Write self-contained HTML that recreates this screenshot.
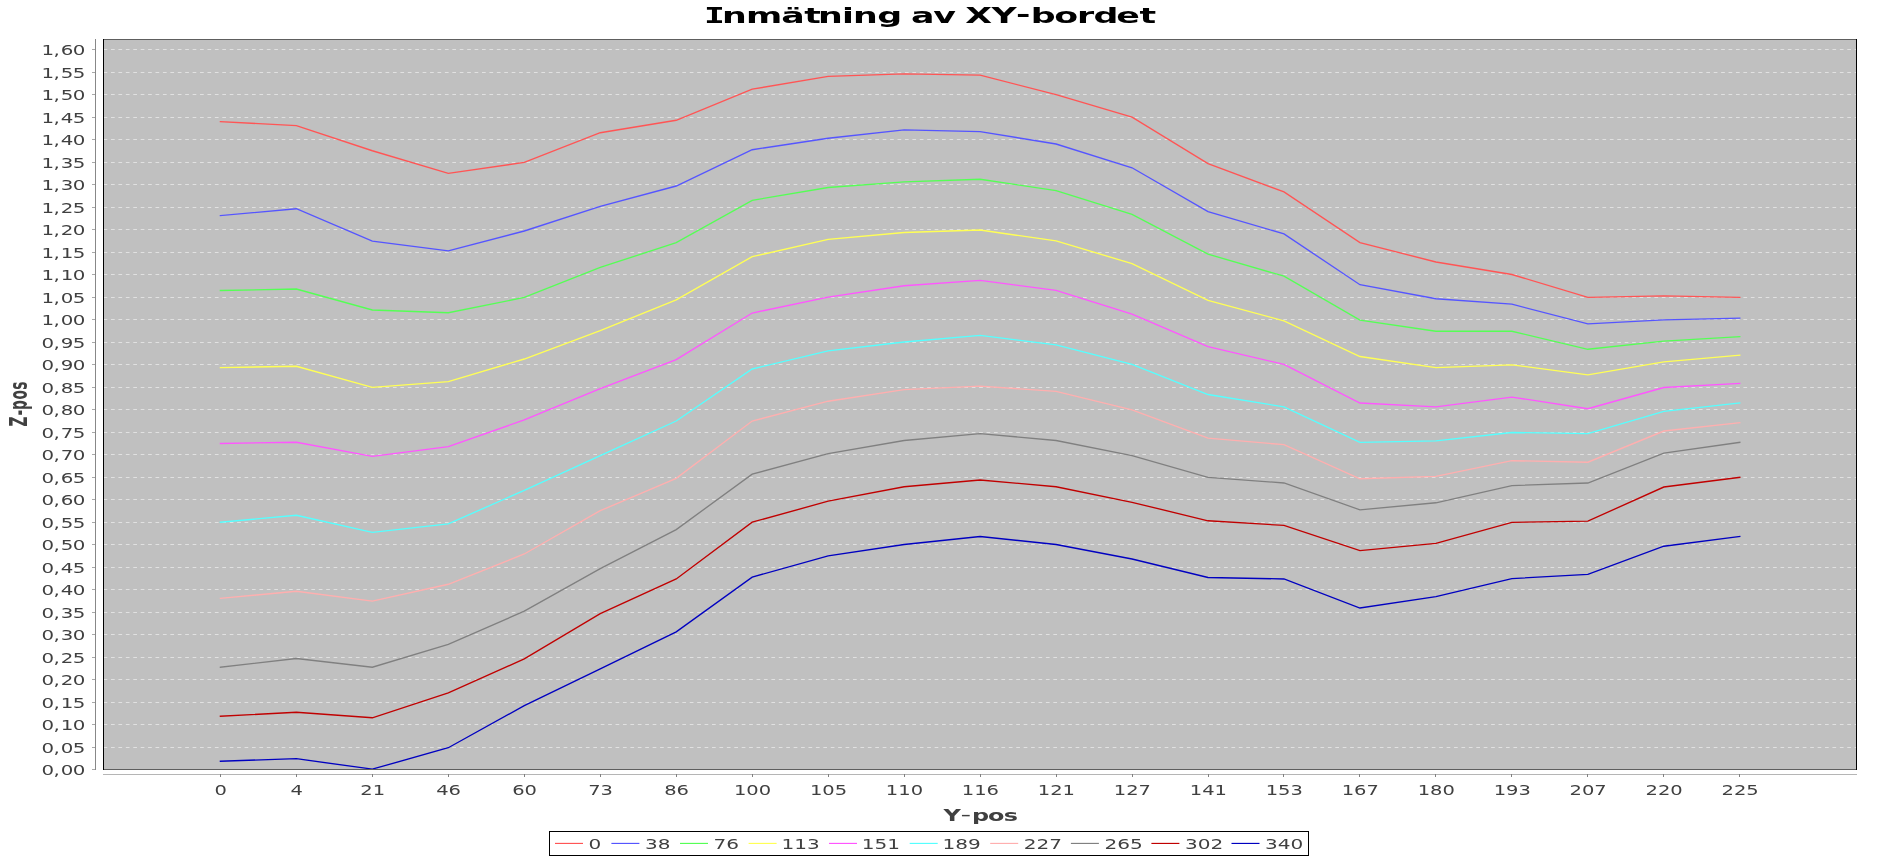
<!DOCTYPE html><html><head><meta charset="utf-8"><title>Inmätning av XY-bordet</title><style>html,body{margin:0;padding:0;background:#fff;width:1877px;height:857px;overflow:hidden}svg{display:block;will-change:transform}text{font-family:'DejaVu Sans', 'Liberation Sans', sans-serif}</style></head><body>
<svg width="1877" height="857" viewBox="0 0 1877 857">
<rect width="1877" height="857" fill="#fff"/>
<text transform="scale(1.58182,1)" y="23.0 23.0 23.0 23.0 23.0 23.0 23.0 23.0 23.0 23.0 23.0 23.0 23.0 23.0 23.0 21.9 23.0 23.0 23.0 23.0 23.0 23.0" x="445.02 456.40 471.57 493.95 508.51 517.09 532.26 539.22 554.64 564.64 576.00 590.00 600.00 610.19 626.84 642.29 651.68 666.53 680.83 691.25 705.73 720.36" font-size="22.00" font-weight="bold" fill="#000"><tspan font-family="'DejaVu Sans Mono', monospace">I</tspan>nmätning av XY-bordet</text>
<rect x="103" y="39" width="1754" height="731" fill="#c0c0c0"/>
<path d="M104 747.5H1856 M104 724.5H1856 M104 702.5H1856 M104 679.5H1856 M104 657.5H1856 M104 634.5H1856 M104 612.5H1856 M104 589.5H1856 M104 567.5H1856 M104 544.5H1856 M104 522.5H1856 M104 499.5H1856 M104 477.5H1856 M104 454.5H1856 M104 432.5H1856 M104 409.5H1856 M104 387.5H1856 M104 364.5H1856 M104 342.5H1856 M104 319.5H1856 M104 297.5H1856 M104 274.5H1856 M104 252.5H1856 M104 229.5H1856 M104 207.5H1856 M104 184.5H1856 M104 162.5H1856 M104 139.5H1856 M104 117.5H1856 M104 94.5H1856 M104 72.5H1856 M104 49.5H1856" stroke="#fff" stroke-opacity="0.52" stroke-width="1" stroke-dasharray="3.71 3.71" stroke-dashoffset="0.42" fill="none"/>
<g fill="none" stroke-width="1.35" stroke-linecap="square" stroke-linejoin="miter">
<polyline points="220.40,121.68 296.37,125.55 372.34,150.75 448.31,173.43 524.28,162.45 600.25,132.71 676.22,120.28 752.19,89.19 828.16,76.41 904.13,73.89 980.10,75.11 1056.07,94.68 1132.04,117.09 1208.01,163.53 1283.98,191.88 1359.95,242.60 1435.92,261.99 1511.89,274.50 1587.86,297.41 1663.83,295.92 1739.80,297.41" stroke="#ff5555"/>
<polyline points="220.40,215.64 296.37,208.75 372.34,241.16 448.31,250.92 524.28,230.98 600.25,206.41 676.22,185.99 752.19,149.72 828.16,138.28 904.13,129.91 980.10,131.58 1056.07,144.00 1132.04,167.76 1208.01,211.63 1283.98,233.91 1359.95,284.72 1435.92,298.71 1511.89,304.20 1587.86,323.82 1663.83,319.91 1739.80,318.10" stroke="#5555ff"/>
<polyline points="220.40,290.52 296.37,288.99 372.34,310.01 448.31,312.75 524.28,297.45 600.25,267.48 676.22,242.60 752.19,200.30 828.16,187.52 904.13,181.80 980.10,179.28 1056.07,190.62 1132.04,214.38 1208.01,254.16 1283.98,276.21 1359.95,320.08 1435.92,331.29 1511.89,331.29 1587.86,349.29 1663.83,341.19 1739.80,336.60" stroke="#55ff55"/>
<polyline points="220.40,367.61 296.37,366.30 372.34,387.31 448.31,381.64 524.28,359.01 600.25,330.66 676.22,299.88 752.19,256.68 828.16,239.45 904.13,232.51 980.10,230.04 1056.07,240.88 1132.04,263.61 1208.01,300.42 1283.98,320.89 1359.95,356.49 1435.92,367.61 1511.89,364.81 1587.86,374.81 1663.83,361.89 1739.80,355.19" stroke="#ffff55"/>
<polyline points="220.40,443.52 296.37,442.22 372.34,456.30 448.31,446.58 524.28,419.94 600.25,388.62 676.22,359.59 752.19,313.02 828.16,297.18 904.13,285.71 980.10,280.39 1056.07,290.30 1132.04,314.01 1208.01,346.59 1283.98,364.41 1359.95,403.02 1435.92,406.89 1511.89,397.08 1587.86,408.69 1663.83,387.50 1739.80,383.36" stroke="#ff55ff"/>
<polyline points="220.40,522.18 296.37,515.30 372.34,532.31 448.31,523.89 524.28,490.32 600.25,455.58 676.22,421.02 752.19,369.00 828.16,350.82 904.13,341.96 980.10,335.38 1056.07,344.88 1132.04,364.41 1208.01,394.51 1283.98,406.85 1359.95,442.31 1435.92,440.82 1511.89,432.50 1587.86,433.62 1663.83,411.30 1739.80,403.02" stroke="#55ffff"/>
<polyline points="220.40,598.32 296.37,591.30 372.34,601.11 448.31,584.28 524.28,554.00 600.25,510.71 676.22,478.31 752.19,421.02 828.16,401.22 904.13,389.61 980.10,386.10 1056.07,391.32 1132.04,409.90 1208.01,438.21 1283.98,444.69 1359.95,478.75 1435.92,476.37 1511.89,460.71 1587.86,462.20 1663.83,431.01 1739.80,422.69" stroke="#ffafaf"/>
<polyline points="220.40,667.22 296.37,658.49 372.34,667.22 448.31,644.49 524.28,611.14 600.25,568.62 676.22,529.61 752.19,474.12 828.16,453.60 904.13,440.50 980.10,433.62 1056.07,440.50 1132.04,455.71 1208.01,477.31 1283.98,482.98 1359.95,509.81 1435.92,502.79 1511.89,485.55 1587.86,483.03 1663.83,453.19 1739.80,442.31" stroke="#808080"/>
<polyline points="220.40,716.22 296.37,712.22 372.34,717.79 448.31,692.87 524.28,658.85 600.25,613.62 676.22,578.97 752.19,522.18 828.16,501.21 904.13,486.72 980.10,480.01 1056.07,486.72 1132.04,502.29 1208.01,520.79 1283.98,525.42 1359.95,550.62 1435.92,543.42 1511.89,522.40 1587.86,521.10 1663.83,487.03 1739.80,477.36" stroke="#c00000"/>
<polyline points="220.40,761.22 296.37,758.70 372.34,769.18 448.31,747.72 524.28,705.69 600.25,668.88 676.22,631.89 752.19,577.08 828.16,555.84 904.13,544.50 980.10,536.49 1056.07,544.50 1132.04,558.99 1208.01,577.49 1283.98,578.97 1359.95,608.04 1435.92,596.70 1511.89,578.61 1587.86,574.38 1663.83,546.21 1739.80,536.40" stroke="#0000c0"/>
</g>
<rect x="103" y="39" width="1754" height="1" fill="#5e5e5e"/>
<rect x="103" y="769" width="1754" height="1" fill="#5e5e5e"/>
<rect x="103" y="39" width="1" height="731" fill="#000"/>
<rect x="1856" y="39" width="1" height="731" fill="#000"/>
<rect x="95" y="39" width="1" height="731" fill="#888"/>
<rect x="92" y="769" width="3" height="1" fill="#a8a8a8"/><rect x="92" y="747" width="3" height="1" fill="#a8a8a8"/><rect x="92" y="724" width="3" height="1" fill="#a8a8a8"/><rect x="92" y="702" width="3" height="1" fill="#a8a8a8"/><rect x="92" y="679" width="3" height="1" fill="#a8a8a8"/><rect x="92" y="657" width="3" height="1" fill="#a8a8a8"/><rect x="92" y="634" width="3" height="1" fill="#a8a8a8"/><rect x="92" y="612" width="3" height="1" fill="#a8a8a8"/><rect x="92" y="589" width="3" height="1" fill="#a8a8a8"/><rect x="92" y="567" width="3" height="1" fill="#a8a8a8"/><rect x="92" y="544" width="3" height="1" fill="#a8a8a8"/><rect x="92" y="522" width="3" height="1" fill="#a8a8a8"/><rect x="92" y="499" width="3" height="1" fill="#a8a8a8"/><rect x="92" y="477" width="3" height="1" fill="#a8a8a8"/><rect x="92" y="454" width="3" height="1" fill="#a8a8a8"/><rect x="92" y="432" width="3" height="1" fill="#a8a8a8"/><rect x="92" y="409" width="3" height="1" fill="#a8a8a8"/><rect x="92" y="387" width="3" height="1" fill="#a8a8a8"/><rect x="92" y="364" width="3" height="1" fill="#a8a8a8"/><rect x="92" y="342" width="3" height="1" fill="#a8a8a8"/><rect x="92" y="319" width="3" height="1" fill="#a8a8a8"/><rect x="92" y="297" width="3" height="1" fill="#a8a8a8"/><rect x="92" y="274" width="3" height="1" fill="#a8a8a8"/><rect x="92" y="252" width="3" height="1" fill="#a8a8a8"/><rect x="92" y="229" width="3" height="1" fill="#a8a8a8"/><rect x="92" y="207" width="3" height="1" fill="#a8a8a8"/><rect x="92" y="184" width="3" height="1" fill="#a8a8a8"/><rect x="92" y="162" width="3" height="1" fill="#a8a8a8"/><rect x="92" y="139" width="3" height="1" fill="#a8a8a8"/><rect x="92" y="117" width="3" height="1" fill="#a8a8a8"/><rect x="92" y="94" width="3" height="1" fill="#a8a8a8"/><rect x="92" y="72" width="3" height="1" fill="#a8a8a8"/><rect x="92" y="49" width="3" height="1" fill="#a8a8a8"/>
<rect x="103" y="774" width="1754" height="1" fill="#b5b5b5"/>
<rect x="220" y="774" width="1" height="3" fill="#808080"/><rect x="296" y="774" width="1" height="3" fill="#808080"/><rect x="372" y="774" width="1" height="3" fill="#808080"/><rect x="448" y="774" width="1" height="3" fill="#808080"/><rect x="524" y="774" width="1" height="3" fill="#808080"/><rect x="600" y="774" width="1" height="3" fill="#808080"/><rect x="676" y="774" width="1" height="3" fill="#808080"/><rect x="752" y="774" width="1" height="3" fill="#808080"/><rect x="828" y="774" width="1" height="3" fill="#808080"/><rect x="904" y="774" width="1" height="3" fill="#808080"/><rect x="980" y="774" width="1" height="3" fill="#808080"/><rect x="1056" y="774" width="1" height="3" fill="#808080"/><rect x="1132" y="774" width="1" height="3" fill="#808080"/><rect x="1208" y="774" width="1" height="3" fill="#808080"/><rect x="1283" y="774" width="1" height="3" fill="#808080"/><rect x="1359" y="774" width="1" height="3" fill="#808080"/><rect x="1435" y="774" width="1" height="3" fill="#808080"/><rect x="1511" y="774" width="1" height="3" fill="#808080"/><rect x="1587" y="774" width="1" height="3" fill="#808080"/><rect x="1663" y="774" width="1" height="3" fill="#808080"/><rect x="1739" y="774" width="1" height="3" fill="#808080"/>
<g fill="#404040"><text transform="translate(0,774.83) scale(1.5000,1)" x="27.61 35.64 40.44 48.48" font-size="13.20">0,00</text><text transform="translate(0,752.83) scale(1.5000,1)" x="27.61 35.64 40.44 48.48" font-size="13.20">0,05</text><text transform="translate(0,729.83) scale(1.5000,1)" x="27.61 35.64 40.44 48.48" font-size="13.20">0,10</text><text transform="translate(0,707.83) scale(1.5000,1)" x="27.61 35.64 40.44 48.48" font-size="13.20">0,15</text><text transform="translate(0,684.83) scale(1.5000,1)" x="27.61 35.64 40.44 48.48" font-size="13.20">0,20</text><text transform="translate(0,662.83) scale(1.5000,1)" x="27.61 35.64 40.44 48.48" font-size="13.20">0,25</text><text transform="translate(0,639.83) scale(1.5000,1)" x="27.61 35.64 40.44 48.48" font-size="13.20">0,30</text><text transform="translate(0,617.83) scale(1.5000,1)" x="27.61 35.64 40.44 48.48" font-size="13.20">0,35</text><text transform="translate(0,594.83) scale(1.5000,1)" x="27.61 35.64 40.44 48.48" font-size="13.20">0,40</text><text transform="translate(0,572.83) scale(1.5000,1)" x="27.61 35.64 40.44 48.48" font-size="13.20">0,45</text><text transform="translate(0,549.83) scale(1.5000,1)" x="27.61 35.64 40.44 48.48" font-size="13.20">0,50</text><text transform="translate(0,527.83) scale(1.5000,1)" x="27.61 35.64 40.44 48.48" font-size="13.20">0,55</text><text transform="translate(0,504.83) scale(1.5000,1)" x="27.61 35.64 40.44 48.48" font-size="13.20">0,60</text><text transform="translate(0,482.83) scale(1.5000,1)" x="27.61 35.64 40.44 48.48" font-size="13.20">0,65</text><text transform="translate(0,459.83) scale(1.5000,1)" x="27.61 35.64 40.44 48.48" font-size="13.20">0,70</text><text transform="translate(0,437.83) scale(1.5000,1)" x="27.61 35.64 40.44 48.48" font-size="13.20">0,75</text><text transform="translate(0,414.83) scale(1.5000,1)" x="27.61 35.64 40.44 48.48" font-size="13.20">0,80</text><text transform="translate(0,392.83) scale(1.5000,1)" x="27.61 35.64 40.44 48.48" font-size="13.20">0,85</text><text transform="translate(0,369.83) scale(1.5000,1)" x="27.61 35.64 40.44 48.48" font-size="13.20">0,90</text><text transform="translate(0,347.83) scale(1.5000,1)" x="27.61 35.64 40.44 48.48" font-size="13.20">0,95</text><text transform="translate(0,324.83) scale(1.5000,1)" x="27.61 35.64 40.44 48.48" font-size="13.20">1,00</text><text transform="translate(0,302.83) scale(1.5000,1)" x="27.61 35.64 40.44 48.48" font-size="13.20">1,05</text><text transform="translate(0,279.83) scale(1.5000,1)" x="27.61 35.64 40.44 48.48" font-size="13.20">1,10</text><text transform="translate(0,257.83) scale(1.5000,1)" x="27.61 35.64 40.44 48.48" font-size="13.20">1,15</text><text transform="translate(0,234.83) scale(1.5000,1)" x="27.61 35.64 40.44 48.48" font-size="13.20">1,20</text><text transform="translate(0,212.83) scale(1.5000,1)" x="27.61 35.64 40.44 48.48" font-size="13.20">1,25</text><text transform="translate(0,189.83) scale(1.5000,1)" x="27.61 35.64 40.44 48.48" font-size="13.20">1,30</text><text transform="translate(0,167.83) scale(1.5000,1)" x="27.61 35.64 40.44 48.48" font-size="13.20">1,35</text><text transform="translate(0,144.83) scale(1.5000,1)" x="27.61 35.64 40.44 48.48" font-size="13.20">1,40</text><text transform="translate(0,122.83) scale(1.5000,1)" x="27.61 35.64 40.44 48.48" font-size="13.20">1,45</text><text transform="translate(0,99.83) scale(1.5000,1)" x="27.61 35.64 40.44 48.48" font-size="13.20">1,50</text><text transform="translate(0,77.83) scale(1.5000,1)" x="27.61 35.64 40.44 48.48" font-size="13.20">1,55</text><text transform="translate(0,54.83) scale(1.5000,1)" x="27.61 35.64 40.44 48.48" font-size="13.20">1,60</text></g>
<g fill="#404040"><text transform="translate(220.70,794.9) scale(1.4750,1)" text-anchor="middle" font-size="13.20">0</text><text transform="translate(296.67,794.9) scale(1.4750,1)" text-anchor="middle" font-size="13.20">4</text><text transform="translate(372.64,794.9) scale(1.4750,1)" text-anchor="middle" font-size="13.20">21</text><text transform="translate(448.61,794.9) scale(1.4750,1)" text-anchor="middle" font-size="13.20">46</text><text transform="translate(524.58,794.9) scale(1.4750,1)" text-anchor="middle" font-size="13.20">60</text><text transform="translate(600.55,794.9) scale(1.4750,1)" text-anchor="middle" font-size="13.20">73</text><text transform="translate(676.52,794.9) scale(1.4750,1)" text-anchor="middle" font-size="13.20">86</text><text transform="translate(752.49,794.9) scale(1.4750,1)" text-anchor="middle" font-size="13.20">100</text><text transform="translate(828.46,794.9) scale(1.4750,1)" text-anchor="middle" font-size="13.20">105</text><text transform="translate(904.43,794.9) scale(1.4750,1)" text-anchor="middle" font-size="13.20">110</text><text transform="translate(980.40,794.9) scale(1.4750,1)" text-anchor="middle" font-size="13.20">116</text><text transform="translate(1056.37,794.9) scale(1.4750,1)" text-anchor="middle" font-size="13.20">121</text><text transform="translate(1132.34,794.9) scale(1.4750,1)" text-anchor="middle" font-size="13.20">127</text><text transform="translate(1208.31,794.9) scale(1.4750,1)" text-anchor="middle" font-size="13.20">141</text><text transform="translate(1284.28,794.9) scale(1.4750,1)" text-anchor="middle" font-size="13.20">153</text><text transform="translate(1360.25,794.9) scale(1.4750,1)" text-anchor="middle" font-size="13.20">167</text><text transform="translate(1436.22,794.9) scale(1.4750,1)" text-anchor="middle" font-size="13.20">180</text><text transform="translate(1512.19,794.9) scale(1.4750,1)" text-anchor="middle" font-size="13.20">193</text><text transform="translate(1588.16,794.9) scale(1.4750,1)" text-anchor="middle" font-size="13.20">207</text><text transform="translate(1664.13,794.9) scale(1.4750,1)" text-anchor="middle" font-size="13.20">220</text><text transform="translate(1740.10,794.9) scale(1.4750,1)" text-anchor="middle" font-size="13.20">225</text></g>
<text transform="scale(1.59333,1)" y="820.7 820.5 820.7 820.7 820.7" x="592.12 602.81 610.02 620.04 630.00" font-size="15.00" font-weight="bold" fill="#404040">Y<tspan font-weight="normal" font-size="18.5">-</tspan>pos</text>
<text transform="translate(26.8,425.8) rotate(-90) scale(0.92905,1.72973)" y="0" x="-0.67 11.13 17.15 28.29 38.76" font-size="14.80" font-weight="bold" fill="#404040">Z-pos</text>
<rect x="549.5" y="831.5" width="759" height="24" fill="#fff" stroke="#000" stroke-width="1"/>
<rect x="555.0" y="842.85" width="28" height="1.15" fill="#ff5555"/><text transform="translate(588.50,848.6) scale(1.5200,1)" font-size="13.20" fill="#404040">0</text><rect x="611.4" y="842.85" width="28" height="1.15" fill="#5555ff"/><text transform="translate(644.90,848.6) scale(1.5200,1)" font-size="13.20" fill="#404040">38</text><rect x="680.0" y="842.85" width="28" height="1.15" fill="#55ff55"/><text transform="translate(713.50,848.6) scale(1.5200,1)" font-size="13.20" fill="#404040">76</text><rect x="748.6" y="842.85" width="28" height="1.15" fill="#ffff55"/><text transform="translate(781.39,848.6) scale(1.5200,1)" font-size="13.20" fill="#404040">113</text><rect x="829.0" y="842.85" width="28" height="1.15" fill="#ff55ff"/><text transform="translate(861.79,848.6) scale(1.5200,1)" font-size="13.20" fill="#404040">151</text><rect x="909.7" y="842.85" width="28" height="1.15" fill="#55ffff"/><text transform="translate(942.49,848.6) scale(1.5200,1)" font-size="13.20" fill="#404040">189</text><rect x="990.2" y="842.85" width="28" height="1.15" fill="#ffafaf"/><text transform="translate(1023.70,848.6) scale(1.5200,1)" font-size="13.20" fill="#404040">227</text><rect x="1070.9" y="842.85" width="28" height="1.15" fill="#808080"/><text transform="translate(1104.40,848.6) scale(1.5200,1)" font-size="13.20" fill="#404040">265</text><rect x="1151.4" y="842.85" width="28" height="1.15" fill="#c00000"/><text transform="translate(1184.90,848.6) scale(1.5200,1)" font-size="13.20" fill="#404040">302</text><rect x="1231.5" y="842.85" width="28" height="1.15" fill="#0000c0"/><text transform="translate(1265.00,848.6) scale(1.5200,1)" font-size="13.20" fill="#404040">340</text>
</svg></body></html>
